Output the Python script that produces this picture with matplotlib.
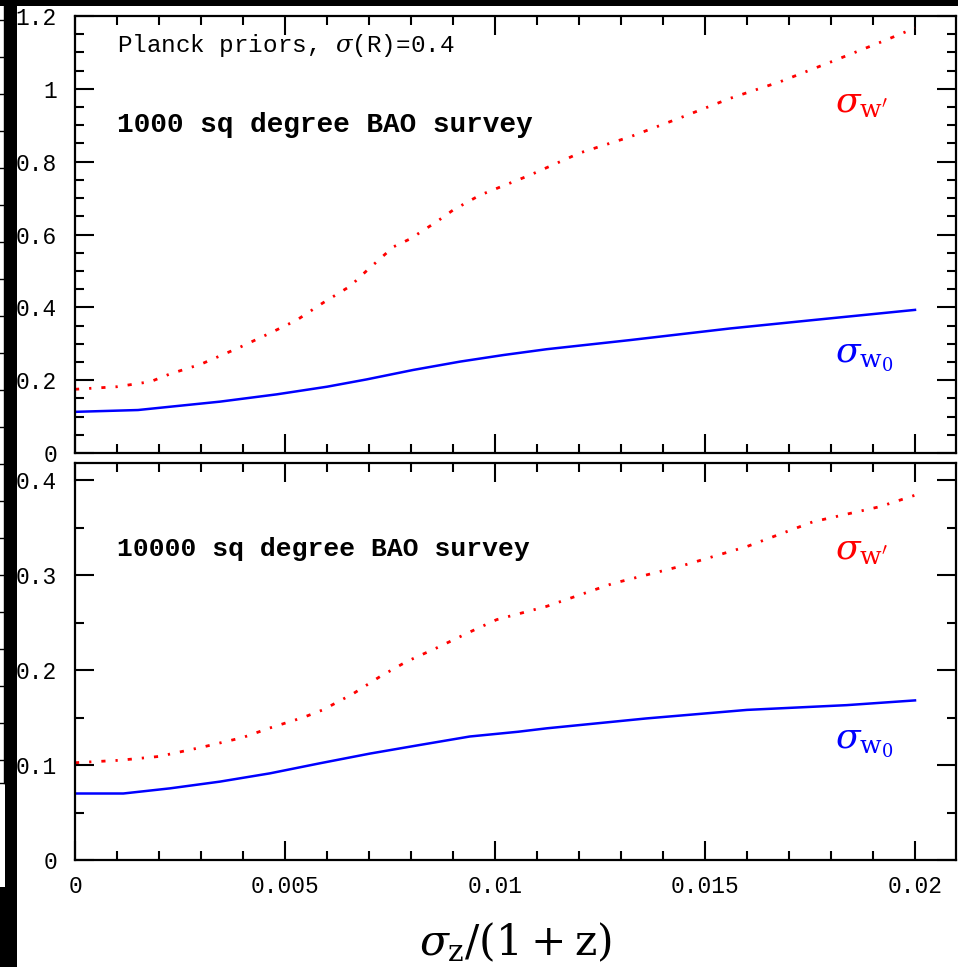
import matplotlib
matplotlib.use("Agg")
import matplotlib.pyplot as plt
from matplotlib.patches import Rectangle
from matplotlib.lines import Line2D
from matplotlib.ticker import MultipleLocator, FixedFormatter, FixedLocator

plt.rcParams['font.family'] = ['Liberation Mono', 'DejaVu Serif']
plt.rcParams['mathtext.fontset'] = 'dejavuserif'

# photo-z scatter sigma_z/(1+z)
sz_wp_1k = [0.0, 0.001, 0.0018, 0.00226, 0.003, 0.0039, 0.00464, 0.00528, 0.0059,
            0.00655, 0.00694, 0.00758, 0.00798, 0.00861, 0.009, 0.00964, 0.01083,
            0.01202, 0.01321, 0.0144, 0.0156, 0.0168, 0.018, 0.0192, 0.02]
wp_1k = [0.175, 0.182, 0.196, 0.217, 0.244, 0.289, 0.329, 0.365, 0.412,
         0.458, 0.500, 0.566, 0.588, 0.635, 0.667, 0.708, 0.763,
         0.824, 0.868, 0.920, 0.974, 1.020, 1.074, 1.129, 1.167]

sz_w0_1k = [0.0, 0.0015, 0.00226, 0.00345, 0.0048, 0.006, 0.00694, 0.00805,
            0.00917, 0.0102, 0.01123, 0.01321, 0.0156, 0.01757, 0.02]
w0_1k = [0.113, 0.118, 0.127, 0.141, 0.161, 0.182, 0.202, 0.228,
         0.251, 0.269, 0.285, 0.310, 0.342, 0.365, 0.393]

sz_wp_10k = [0.0, 0.00107, 0.002, 0.00305, 0.004, 0.00464, 0.00543, 0.0059,
             0.00662, 0.00726, 0.0079, 0.0086, 0.0094, 0.01004, 0.01123, 0.0128,
             0.0144, 0.016, 0.01757, 0.01917, 0.02]
wp_10k = [0.1024, 0.105, 0.109, 0.119, 0.129, 0.139, 0.150, 0.158,
          0.175, 0.193, 0.209, 0.223, 0.240, 0.253, 0.267, 0.291,
          0.309, 0.330, 0.356, 0.372, 0.384]

sz_w0_10k = [0.0, 0.00115, 0.00226, 0.00345, 0.00464, 0.00583, 0.00702, 0.0082,
             0.0094, 0.01055, 0.01123, 0.0136, 0.016, 0.01837, 0.02]
w0_10k = [0.070, 0.070, 0.0754, 0.0825, 0.0912, 0.1018, 0.112, 0.121,
          0.130, 0.135, 0.1386, 0.149, 0.158, 0.163, 0.168]

xticks = [0, 0.005, 0.01, 0.015, 0.02]
xtick_labels = ['0', '0.005', '0.01', '0.015', '0.02']
yticks_top = [0, 0.2, 0.4, 0.6, 0.8, 1.0, 1.2]
ytick_labels_top = ['0', '0.2', '0.4', '0.6', '0.8', '1', '1.2']
yticks_bot = [0, 0.1, 0.2, 0.3, 0.4]
ytick_labels_bot = ['0', '0.1', '0.2', '0.3', '0.4']

W, H = 958, 967
fig = plt.figure(figsize=(W / 100, H / 100), dpi=100)
fig.patch.set_facecolor('white')


def px_axes(left, top, right, bottom):
    return fig.add_axes([left / W, 1 - bottom / H, (right - left) / W, (bottom - top) / H])


ax1 = px_axes(75, 16, 956, 453)
ax2 = px_axes(75, 463, 956, 860)

red_style = dict(color='#ff0000', lw=2.0, linestyle=(0, (1.5, 3.6, 0.8, 3.6)))
blue_style = dict(color='#0000ff', lw=1.8, linestyle='-')

ax1.plot(sz_wp_1k, wp_1k, **red_style)
ax1.plot(sz_w0_1k, w0_1k, **blue_style)
ax2.plot(sz_wp_10k, wp_10k, **red_style)
ax2.plot(sz_w0_10k, w0_10k, **blue_style)

xmax = 0.02 * 881 / 840
ax1.set_xlim(0, xmax)
ax2.set_xlim(0, xmax)
ax1.set_ylim(0, 1.2)
ax2.set_ylim(0, 397 / 950)

for ax, yt, yl in ((ax1, yticks_top, ytick_labels_top), (ax2, yticks_bot, ytick_labels_bot)):
    ax.xaxis.set_major_locator(FixedLocator(xticks))
    ax.xaxis.set_minor_locator(MultipleLocator(0.001))
    ax.yaxis.set_major_locator(FixedLocator(yt))
    ax.yaxis.set_major_formatter(FixedFormatter(yl))
    ax.yaxis.set_minor_locator(MultipleLocator(0.05))
    ax.tick_params(which='both', direction='in', top=True, right=True, width=1.5,
                   color='black')
    ax.tick_params(which='major', length=13.5)
    ax.tick_params(which='minor', length=6.5)
    ax.tick_params(axis='y', which='major', pad=13, labelsize=16.5)
    ax.tick_params(axis='x', which='major', pad=11, labelsize=16.5)
    for s in ax.spines.values():
        s.set_linewidth(1.6)

ax1.tick_params(axis='x', labelbottom=False)
ax2.xaxis.set_major_formatter(FixedFormatter(xtick_labels))

ax2.set_xlabel(r'$\sigma_{\rm z}/(1+{\rm z})$', fontsize=30.5, labelpad=16)

ax1.text(0.0477, 0.918, r'Planck priors, $\sigma$(R)=0.4', transform=ax1.transAxes,
         fontsize=17.5, va='baseline', ha='left')
ax1.text(0.0477, 0.735, '1000 sq degree BAO survey', transform=ax1.transAxes,
         fontsize=20, fontweight='bold', va='baseline', ha='left')
ax2.text(0.0477, 0.765, '10000 sq degree BAO survey', transform=ax2.transAxes,
         fontsize=19, fontweight='bold', va='baseline', ha='left')

lab_wp = r"$\sigma_{\rm w'}$"
lab_w0 = r"$\sigma_{\rm w_0}$"
ax1.text(0.0181, 0.935, lab_wp, color='#ff0000', fontsize=26, va='baseline')
ax1.text(0.0181, 0.25, lab_w0, color='#0000ff', fontsize=26, va='baseline')
ax2.text(0.0181, 0.316, lab_wp, color='#ff0000', fontsize=26, va='baseline')
ax2.text(0.0181, 0.118, lab_w0, color='#0000ff', fontsize=26, va='baseline')

# dark scan borders along the top and left edges
def fig_rect(x0, y0, x1, y1, color='black'):
    fig.add_artist(Rectangle((x0 / W, 1 - y1 / H), (x1 - x0) / W, (y1 - y0) / H,
                             transform=fig.transFigure, facecolor=color,
                             edgecolor='none', zorder=50))

fig_rect(0, 0, W, 6)
fig_rect(5, 0, 17, H)
fig_rect(0, 887, 17, H)

# edge of neighbouring frame at far left
fig.add_artist(Line2D([4 / W, 4 / W], [1 - 6 / H, 1 - 783 / H], transform=fig.transFigure,
                      color='black', lw=1.0, zorder=49))
fig.add_artist(Line2D([0, 4 / W], [1 - 783 / H, 1 - 783 / H], transform=fig.transFigure,
                      color='black', lw=1.0, zorder=49))
for yy in range(20, 783, 37):
    fig.add_artist(Line2D([0, 4 / W], [1 - yy / H, 1 - yy / H], transform=fig.transFigure,
                          color='black', lw=1.0, zorder=49))

fig.savefig('out.png', dpi=100, facecolor='white')
